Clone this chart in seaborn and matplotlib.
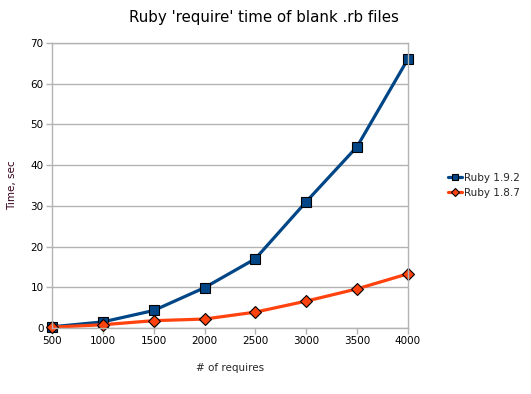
import matplotlib
matplotlib.use('Agg')
import matplotlib.pyplot as plt
import pandas as pd
import seaborn as sns

requires = [500, 1000, 1500, 2000, 2500, 3000, 3500, 4000]
ruby_192 = [0.3, 1.5, 4.3, 9.9, 17.0, 31.0, 44.5, 66.0]
ruby_187 = [0.2, 0.8, 1.8, 2.2, 3.9, 6.6, 9.6, 13.3]

sns.set_theme(style='white')
plt.rcParams['font.family'] = ['DejaVu Sans']

data = pd.DataFrame({
    'requires': requires * 2,
    'time': ruby_192 + ruby_187,
    'version': ['Ruby 1.9.2'] * len(requires) + ['Ruby 1.8.7'] * len(requires),
})

fig = plt.figure(figsize=(5.31, 3.94), dpi=100)
ax = fig.add_axes([0.098, 0.1675, 0.670, 0.7235])
sns.lineplot(data=data, x='requires', y='time', hue='version', style='version',
             markers={'Ruby 1.9.2': 's', 'Ruby 1.8.7': 'D'}, dashes=False,
             palette={'Ruby 1.9.2': '#004586', 'Ruby 1.8.7': '#ff420e'},
             linewidth=2.3, markersize=7, markeredgecolor='black', markeredgewidth=0.8,
             ax=ax, legend=True)
for line in ax.lines:
    line.set_clip_on(False)
ax.lines[1].set_markersize(6)

ax.set_xlim(500, 4000)
ax.set_ylim(0, 70)
ax.set_xticks(requires)
ax.set_yticks(range(0, 71, 10))
ax.grid(axis='y', color='#b3b3b3', linewidth=1)
ax.set_axisbelow(True)
for s in ax.spines.values():
    s.set_color('#b3b3b3')
    s.set_linewidth(1)
ax.tick_params(axis='both', labelsize=7.5, colors='#b3b3b3', labelcolor='black',
               length=4, width=1, direction='out', left=True, bottom=True, pad=2)
ax.set_xlabel('# of requires', fontsize=7.5, labelpad=12)
ax.set_ylabel('Time, sec', fontsize=7.5, color='#33001a', labelpad=10)
fig.suptitle("Ruby 'require' time of blank .rb files", fontsize=10.8,
             x=0.497, y=0.975, color='black')

leg = ax.legend(loc='center left', bbox_to_anchor=(1.1, 0.5), frameon=False, fontsize=7.5,
                handlelength=1.4, handletextpad=0.2, labelspacing=0.5, borderaxespad=0)
for h in leg.legend_handles:
    h.set_markersize(4.5)
    h.set_linewidth(2.3)

fig.savefig('out.png', dpi=100)
